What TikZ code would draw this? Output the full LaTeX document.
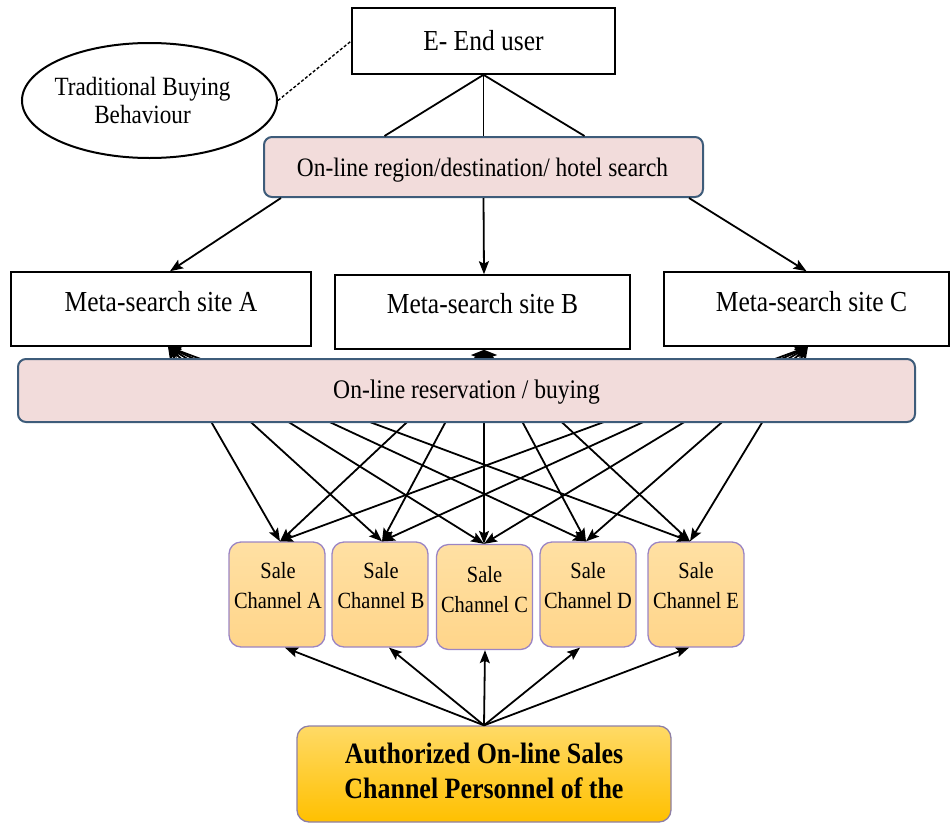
\documentclass[tikz,border=0pt]{standalone}
\usepackage{fontspec}
\setmainfont{Liberation Serif}[FakeStretch=0.88]
\usetikzlibrary{arrows.meta,calc,shapes.geometric}
\definecolor{pinkfill}{HTML}{F2DCDB}
\definecolor{pinkedge}{HTML}{3E5C7A}
\definecolor{chantop}{HTML}{FFE0A3}
\definecolor{chanbot}{HTML}{FFD58A}
\definecolor{chanedge}{HTML}{9B85C4}
\definecolor{goldtop}{HTML}{FFDA66}
\definecolor{goldbot}{HTML}{FFC000}
\definecolor{goldedge}{HTML}{8E7FA6}
% \txt{dx}{raise of first baseline above centre}{lines}
\newcommand\txt[3]{\makebox[0pt]{\kern#1\raisebox{#2}[0pt][0pt]{\begin{tabular}[t]{@{}c@{}}#3\end{tabular}}\kern-#1}}
\tikzset{
  plainbox/.style={draw=black, line width=1.6pt, rectangle, inner sep=0pt},
  pinkbox/.style={draw=pinkedge, fill=pinkfill, line width=2pt, rounded corners=8pt, inner sep=0pt},
  chanbox/.style={draw=chanedge, top color=chantop, bottom color=chanbot, line width=1.3pt, rounded corners=12pt, inner sep=0pt, minimum width=96pt, minimum height=105pt, font=\fontsize{23.2}{30.5}\selectfont},
  goldbox/.style={draw=goldedge, top color=goldtop, bottom color=goldbot, line width=1.3pt, rounded corners=12pt, inner sep=0pt},
  conn/.style={line width=1.8pt, draw=black},
  tip/.style={},
  arr/.style={conn, -{Stealth[length=13pt,width=10pt,inset=2.5pt]}},
  barr/.style={conn, {Stealth[length=13pt,width=10pt,inset=2.5pt]}-{Stealth[length=13pt,width=10pt,inset=2.5pt]}},
}
\begin{document}
\begin{tikzpicture}[x=1pt,y=-1pt]
\useasboundingbox (0,0) rectangle (950,825);
% top
\node[plainbox, minimum width=263pt, minimum height=66pt, font=\fontsize{29}{34}\selectfont] (eu) at (483.5,41) {\txt{0pt}{-9pt}{E- End user}};
\node[ellipse, draw=black, line width=2pt, inner sep=0pt, minimum width=255pt, minimum height=115pt, font=\fontsize{26.3}{28}\selectfont] (trad) at (149.5,100.5) {\txt{-7pt}{5.5pt}{Traditional Buying\\Behaviour}};
\node[pinkbox, minimum width=439pt, minimum height=60pt, font=\fontsize{26.6}{30}\selectfont] (search) at (483.5,167) {\txt{-1pt}{-9pt}{On-line region/destination/ hotel search}};
% meta-search sites
\node[plainbox, minimum width=300pt, minimum height=74pt, font=\fontsize{29}{34}\selectfont] (mA) at (161,309) {\txt{0pt}{-2.5pt}{Meta-search site A}};
\node[plainbox, minimum width=295pt, minimum height=74pt, font=\fontsize{29}{34}\selectfont] (mB) at (482.5,312) {\txt{0pt}{-1.5pt}{Meta-search site B}};
\node[plainbox, minimum width=285pt, minimum height=74pt, font=\fontsize{29}{34}\selectfont] (mC) at (806.5,309) {\txt{5pt}{-2.5pt}{Meta-search site C}};
% sale channels
\node[chanbox] (cA) at (277,594.5) {\txt{1pt}{16.5pt}{Sale\\Channel A}};
\node[chanbox] (cB) at (380,594.5) {\txt{1pt}{16.5pt}{Sale\\Channel B}};
\node[chanbox] (cC) at (484.5,597) {\txt{0pt}{15pt}{Sale\\Channel C}};
\node[chanbox] (cD) at (588,594.5) {\txt{0pt}{16.5pt}{Sale\\Channel D}};
\node[chanbox] (cE) at (696,594.5) {\txt{0pt}{16.5pt}{Sale\\Channel E}};
% authorized personnel
\node[goldbox, minimum width=374pt, minimum height=96pt, font=\bfseries\fontsize{29.5}{35}\selectfont] (auth) at (484,774) {\txt{0pt}{11pt}{Authorized On-line Sales\\Channel Personnel of the}};
% connectors
\draw[line width=1.4pt, dash pattern=on 3pt off 2pt] (trad.east) -- (eu.west);
\draw[conn] (eu.south) -- ($(search.north)+(-99,0)$);
\draw[conn] (eu.south) -- (search.north);
\draw[conn] (eu.south) -- ($(search.north)+(101,0)$);
\draw[arr] ($(search.south west)+(18,0)$) -- ($(mA.north)+(9,0)$);
\draw[arr] (search.south) -- ($(mB.north)+(1.5,0)$);
\draw[arr] ($(search.south east)+(-15,0)$) -- (mC.north);
\foreach \m/\mx in {mA/7,mB/1.5,mC/1.5}
  \foreach \c/\cx in {cA/3,cB/2,cC/-0.5,cD/-2,cE/-6}
    \draw[barr] ($(\m.south)+(\mx,0)$) -- ($(\c.north)+(\cx,0)$);
\foreach \c/\cx in {cA/8,cB/9,cC/0.5,cD/-8,cE/-7}
  \draw[arr] (auth.north) -- ($(\c.south)+(\cx,0)$);
% reservation box drawn over the crossing lines
\node[pinkbox, minimum width=897pt, minimum height=63pt, font=\fontsize{26.8}{30}\selectfont] (res) at (466.5,390.5) {\txt{0pt}{-7.5pt}{On-line reservation / buying}};
\end{tikzpicture}
\end{document}
